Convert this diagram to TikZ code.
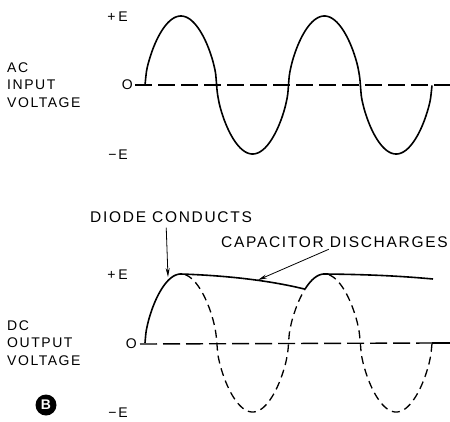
\documentclass[tikz,border=0pt]{standalone}
\usepackage{fontspec}
\newfontfamily\lblfont{Liberation Sans}[LetterSpace=11]
\usetikzlibrary{arrows.meta,positioning}

\tikzset{
  axislbl/.style={font=\lblfont\fontsize{14}{17.5}\selectfont, inner sep=0pt},
  sidelbl/.style={axislbl, align=left, anchor=west},
  notelbl/.style={font=\lblfont\fontsize{15.5}{18}\selectfont, inner sep=0pt, anchor=west},
  wave/.style={line width=1.6pt, line join=round},
  ghost/.style={line width=1.3pt, dash pattern=on 8pt off 5pt},
  zeroline/.style={line width=1.4pt, dash pattern=on 17pt off 6pt},
  pointer/.style={line width=0.8pt, -{Stealth[length=9pt,width=4pt]}},
}
% rounded sine arch, zero at 145, half period 71.75
\newcommand{\arch}[1]{sign(sin(2.5087*(#1-145)))*pow(abs(sin(2.5087*(#1-145)))+0.0001,0.6)}

\begin{document}
\begin{tikzpicture}[x=1pt, y=-1pt]
\useasboundingbox (0,0) rectangle (450,421);

% AC input
\node[sidelbl] (acLbl) at (7,85) {AC\\INPUT\\VOLTAGE};
\node[axislbl, anchor=east] (topPlus) at (128,17) {+\hspace{3pt}E};
\node[axislbl, anchor=east] (topZero) at (133,85) {O};
\node[axislbl, anchor=east] (topMinus) at (128,155) {−\hspace{2pt}E};
\coordinate (topEnd) at (450,85);
\draw[zeroline] ([xshift=2pt]topZero.east) -- (topEnd);
\draw[wave] plot[domain=145:432, samples=200, smooth] (\x,{85-69*\arch{\x}});

% DC output
\node[sidelbl] (dcLbl) at (7,343) {DC\\OUTPUT\\VOLTAGE};
\node[axislbl, anchor=east] (botPlus) at (128,275) {+\hspace{3pt}E};
\node[axislbl, anchor=east] (botZero) at (137,344) {O};
\node[axislbl, anchor=east] (botMinus) at (128,413) {−\hspace{2pt}E};
\coordinate (botEnd) at (432,343);
\coordinate (tailEnd) at (450,343);
\draw[zeroline] ([xshift=3pt]botZero.east) -- (botEnd);
\draw[line width=1.4pt] (botEnd) -- (tailEnd);

% half wave underneath
\draw[ghost] plot[domain=185:305, samples=100, smooth] (\x,{343-69*\arch{\x}});
\draw[ghost] plot[domain=329:432, samples=100, smooth] (\x,{343-69*\arch{\x}});

% filtered output
\draw[wave] plot[domain=145:181, samples=40, smooth] (\x,{343-69*\arch{\x}})
  .. controls (240,276) and (280,283) .. (305,{343-69*\arch{305}});
\draw[wave] plot[domain=305:324.4, samples=20, smooth] (\x,{343-69*\arch{\x}})
  .. controls (370,274.5) and (400,276) .. (433,279);

% notes
\node[notelbl] (diodeLbl) at (90,217) {DIODE CONDUCTS};
\node[notelbl] (capLbl) at (221,242) {CAPACITOR DISCHARGES};
\coordinate (diodeTip) at (168,277);
\coordinate (capTip) at (258,280);
\draw[pointer, shorten <=5pt] ([xshift=-5pt]diodeLbl.south) -- (diodeTip);
\draw[pointer, shorten <=4pt] ([xshift=-2pt]capLbl.south) -- (capTip);

\node[circle, fill=black, minimum size=21pt, inner sep=0pt, text=white,
  font=\fontspec{Liberation Sans Bold}\fontsize{14}{14}\selectfont] (bMark) at (46,405) {B};
\end{tikzpicture}
\end{document}
